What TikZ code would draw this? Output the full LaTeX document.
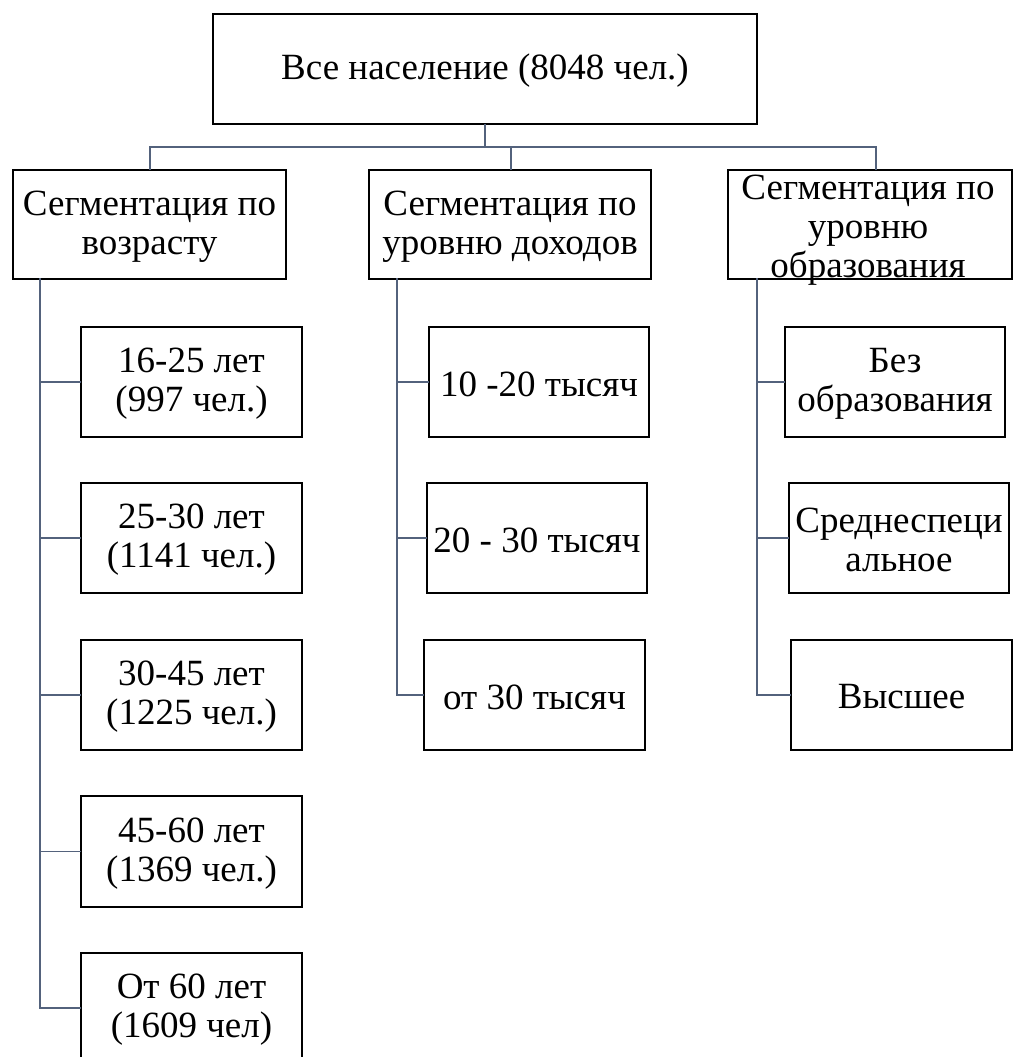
\documentclass[tikz,border=0pt]{standalone}
\usepackage{fontspec}
\setmainfont{Liberation Serif}
\definecolor{conncol}{HTML}{53627C}
\begin{document}
\begin{tikzpicture}[x=1pt,y=-1pt,
  box/.style={draw=black, line width=1.6pt, inner sep=0pt, fill=none},
  lbl/.style={align=center, inner sep=0pt, font=\fontsize{37}{39}\selectfont, yshift=-2pt},
  conn/.style={draw=conncol, line width=1.2pt}]
\useasboundingbox (0,0) rectangle (1014,1057);
% boxes: corners
\newcommand{\mkbox}[6]{% name, x1,y1,x2,y2, text
  \node[box, minimum width={#4-#2}, minimum height={#5-#3}] (#1) at ({(#2+#4)/2},{(#3+#5)/2}) {};
  \node[lbl] (#1t) at (#1.center) {#6};}
\mkbox{top}{213}{14}{757}{124}{Все население (8048 чел.)}
\mkbox{sa}{13}{170}{286}{279}{Сегментация по\\возрасту}
\mkbox{sb}{369}{170}{651}{279}{Сегментация по\\уровню доходов}
\node[box, minimum width=284, minimum height=109] (sc) at (870,224.5) {};
\node[lbl] (sct) at (868,228) {Сегментация по\\уровню\\образования};
\mkbox{a1}{81}{327}{302}{437}{16-25 лет\\(997 чел.)}
\mkbox{a2}{81}{483}{302}{593}{25-30 лет\\(1141 чел.)}
\mkbox{a3}{81}{640}{302}{750}{30-45 лет\\(1225 чел.)}
\mkbox{a4}{81}{796}{302}{907}{45-60 лет\\(1369 чел.)}
\mkbox{a5}{81}{953}{302}{1063}{От 60 лет\\(1609 чел)}
\mkbox{i1}{429}{327}{649}{437}{10 -20 тысяч}
\mkbox{i2}{427}{483}{647}{593}{20 - 30 тысяч}
\mkbox{i3}{424}{640}{645}{750}{от 30 тысяч}
\mkbox{e1}{785}{327}{1005}{437}{Без\\образования}
\mkbox{e2}{789}{483}{1009}{593}{Среднеспеци\\альное}
\mkbox{e3}{791}{640}{1012}{750}{Высшее}
% connector coordinates
\coordinate (hub) at (485,147);
\coordinate (ha) at (150,147);
\coordinate (hb) at (511,147);
\coordinate (hc) at (876,147);
\coordinate (va) at (40,279);
\coordinate (vb) at (397,279);
\coordinate (vc) at (757,279);
\begin{scope}[line cap=rect]
\draw[conn] (top.south) -- (hub);
\draw[conn] (ha) -- (hc);
\draw[conn] (ha) -- (ha |- sa.north);
\draw[conn] (hb) -- (hb |- sb.north);
\draw[conn] (hc) -- (hc |- sc.north);
\draw[conn] (va) |- (a5.west);
\foreach \n in {a1,a2,a3,a4} \draw[conn] (va |- \n.west) -- (\n.west);
\draw[conn] (vb) |- (i3.west);
\foreach \n in {i1,i2} \draw[conn] (vb |- \n.west) -- (\n.west);
\draw[conn] (vc) |- (e3.west);
\foreach \n in {e1,e2} \draw[conn] (vc |- \n.west) -- (\n.west);
\end{scope}
\end{tikzpicture}
\end{document}
